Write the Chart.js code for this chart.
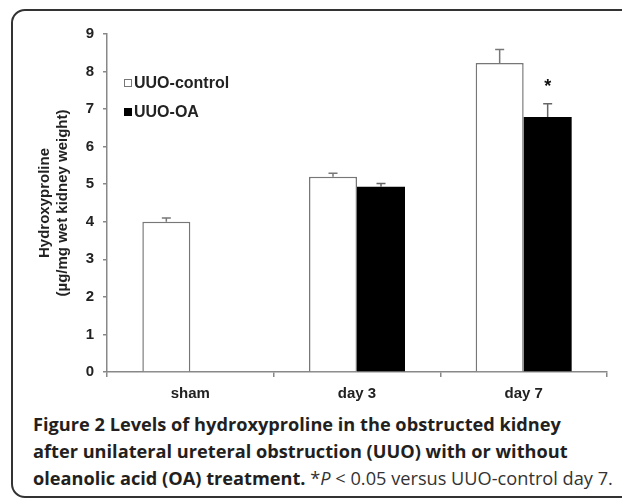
<!DOCTYPE html>
<html>
<head>
<meta charset="utf-8">
<script src="https://cdn.jsdelivr.net/npm/chart.js@4.4.1/dist/chart.umd.min.js"></script>
<style>
  html, body { margin: 0; padding: 0; background: #fff; }
  body { width: 622px; height: 498px; position: relative; overflow: hidden; }
  #frame {
    position: absolute; left: 11px; top: 9px; width: 640px; height: 489px;
    border: 2px solid #333; border-radius: 14px; box-sizing: border-box;
  }
  #wrap { position: absolute; left: 0; top: 0; width: 622px; height: 410px; }
  #caption {
    position: absolute; left: 33px; top: 411px;
    font-family: "Open Sans", sans-serif; font-size: 18.2px; line-height: 27px;
    color: #231f20; white-space: nowrap;
  }
  #caption b { font-weight: 700; }
  #caption .reg { color: #333; }
</style>
</head>
<body>
<div id="frame"></div>
<div id="wrap"><canvas id="chart" width="622" height="410"></canvas></div>
<div id="caption">
  <b>Figure 2</b> <b>Levels of hydroxyproline in the obstructed kidney</b><br>
  <b>after unilateral ureteral obstruction (UUO) with or without</b><br>
  <b>oleanolic acid (OA) treatment.</b> <span class="reg">*<i>P</i> &lt; 0.05 versus UUO-control day 7.</span>
</div>
<script>
// groups on the x axis
const categories = ["sham", "day 3", "day 7"];
// mean values
const controlValues = [4.0, 5.2, 8.23];
const oaValues = [null, 4.93, 6.79];
// upper error (SEM) for each bar
const controlErr = [0.1, 0.09, 0.36];
const oaErr = [null, 0.09, 0.35];
// significance marks, per dataset / group
const oaMarks = ["", "", "*"];

const tickFont = { family: "'Liberation Sans', Arial, sans-serif", size: 15, weight: "bold" };

//error bars (upward only) and the star
const errorBars = {
  id: "errorBars",
  afterDatasetsDraw(chart) {
    const ctx = chart.ctx;
    const y = chart.scales.y;
    const errs = [controlErr, oaErr];
    const colors = ["#777", "#666"];
    ctx.save();
    chart.data.datasets.forEach((ds, di) => {
      chart.getDatasetMeta(di).data.forEach((bar, i) => {
        const e = errs[di][i];
        if (ds.data[i] == null || e == null) return;
        const top = y.getPixelForValue(ds.data[i] + e);
        ctx.strokeStyle = colors[di];
        ctx.lineWidth = 1.5;
        ctx.beginPath();
        ctx.moveTo(bar.x, bar.y);
        ctx.lineTo(bar.x, top);
        ctx.moveTo(bar.x - 4.5, top);
        ctx.lineTo(bar.x + 4.5, top);
        ctx.stroke();
        if (di === 1 && oaMarks[i]) {
          ctx.fillStyle = "#111";
          ctx.font = "bold 18px 'Liberation Sans', Arial, sans-serif";
          ctx.textAlign = "center";
          ctx.textBaseline = "alphabetic";
          ctx.fillText(oaMarks[i], bar.x, top - 12);
        }
      });
    });
    ctx.restore();
  },
};

//legend drawn inside the plot, top left
const innerLegend = {
  id: "innerLegend",
  afterDraw(chart) {
    const ctx = chart.ctx;
    const x0 = chart.chartArea.left + 17;
    const rows = [83, 112];
    ctx.save();
    ctx.font = "bold 16px 'Liberation Sans', Arial, sans-serif";
    ctx.textBaseline = "middle";
    ctx.textAlign = "left";
    chart.data.datasets.forEach((ds, i) => {
      const yy = rows[i];
      ctx.fillStyle = ds.backgroundColor;
      ctx.fillRect(x0, yy - 4, 8, 8);
      ctx.strokeStyle = i === 0 ? "#777" : "#000";
      ctx.lineWidth = 1;
      ctx.strokeRect(x0 + 0.5, yy - 3.5, 7, 7);
      ctx.fillStyle = "#222";
      ctx.fillText(ds.label, x0 + 10, yy + 1);
    });
    ctx.restore();
  },
};

new Chart(document.getElementById("chart"), {
  type: "bar",
  data: {
    labels: categories,
    datasets: [
      {
        label: "UUO-control",
        data: controlValues,
        backgroundColor: "#ffffff",
        borderColor: "#777",
        borderWidth: 1.5,
      },
      {
        label: "UUO-OA",
        data: oaValues,
        backgroundColor: "#000000",
        borderColor: "#000",
        borderWidth: 0,
      },
    ],
  },
  plugins: [errorBars, innerLegend],
  options: {
    responsive: false,
    animation: false,
    devicePixelRatio: 1,
    categoryPercentage: 0.576,
    barPercentage: 1,
    layout: { padding: { left: 0, top: 34, right: 15, bottom: 0 } },
    plugins: {
      legend: { display: false },
      tooltip: { enabled: false },
    },
    scales: {
      x: {
        afterFit: (s) => { s.height = 38; },
        grid: { display: true, drawOnChartArea: false, tickLength: 5, color: "#888", lineWidth: 1.5 },
        border: { display: true, color: "#888", width: 1.5 },
        ticks: { color: "#222", font: tickFont, padding: 8 },
      },
      y: {
        min: 0,
        max: 9,
        afterFit: (s) => { s.width = 107; },
        grid: { display: true, drawOnChartArea: false, tickLength: 4, color: "#888", lineWidth: 1.5 },
        border: { display: true, color: "#888", width: 1.5 },
        ticks: { stepSize: 1, color: "#222", font: tickFont, padding: 9 },
        title: {
          display: true,
          text: ["Hydroxyproline", "(µg/mg wet kidney weight)"],
          color: "#222",
          font: { family: "'Liberation Sans', Arial, sans-serif", size: 15, weight: "bold", lineHeight: 1.2 },
          padding: { top: 36, bottom: 0 },
        },
      },
    },
  },
});
</script>
</body>
</html>
